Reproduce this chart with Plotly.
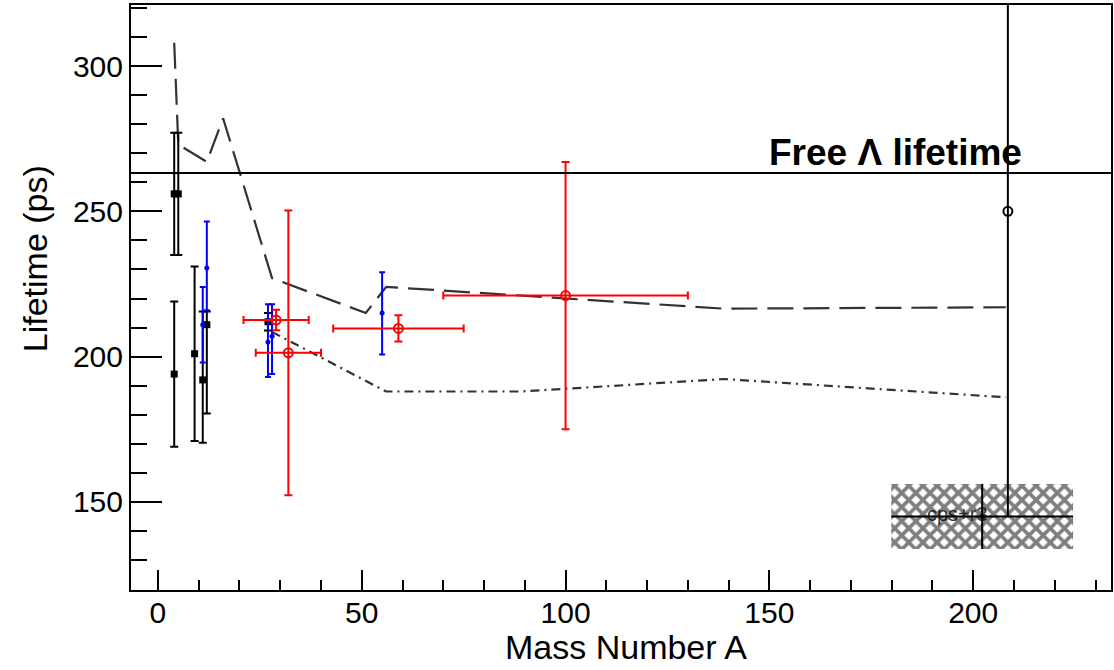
import plotly.graph_objects as go

# ---- data ----
free_lifetime = 263.2

dash_A = [4, 5, 12, 16, 28, 51, 56, 139, 208]
dash_tau = [308, 273, 267, 282, 227, 215, 224, 216.5, 217]

dashdot_A = [28, 56, 89, 139, 208]
dashdot_tau = [208.5, 188, 188, 192.3, 186]

black_A = [4, 5, 4, 9, 11, 12, 27]
black_tau = [256, 256, 194, 201, 192, 211, 212]
black_up = [21, 21, 25, 30, 23.5, 4.5, 3]
black_dn = [21, 21, 25, 30, 21.6, 30.6, 3]

blue_A = [11, 12, 27, 28, 55]
blue_tau = [211, 230.5, 205, 207, 215]
blue_up = [13, 16, 13, 11, 14]
blue_dn = [13, 14.5, 12, 13, 14.3]

red_A = [29, 32, 59, 100]
red_tau = [212.6, 201.3, 209.7, 221]
red_xerr = [8, 8, 16, 30]
red_yerr = [3.5, 49, 4.5, 46]

pb_A = [208.5]
pb_tau = [250]
pb_up = [110]
pb_dn = [105]

box_A = 202.2
box_tau = 145
box_xerr = 22.3
box_yerr = 11.2
box_label = "cps+r3"

x_ticks = [0, 50, 100, 150, 200]
y_ticks = [150, 200, 250, 300]

FONT = "Liberation Sans, Arial, sans-serif"

fig = go.Figure()

# hatched box
bx = [box_A - box_xerr, box_A + box_xerr, box_A + box_xerr, box_A - box_xerr, box_A - box_xerr]
by = [box_tau - box_yerr, box_tau - box_yerr, box_tau + box_yerr, box_tau + box_yerr, box_tau - box_yerr]
fig.add_trace(go.Scatter(
    x=bx, y=by, mode="lines", fill="toself",
    line=dict(width=0, color="rgba(0,0,0,0)"),
    fillcolor="white",
    fillpattern=dict(shape="x", size=10, solidity=0.6, fgcolor="#000", bgcolor="white"),
    hoverinfo="skip", showlegend=False))
fig.add_trace(go.Scatter(
    x=[box_A], y=[box_tau], mode="markers",
    marker=dict(size=5, color="black"),
    error_x=dict(type="constant", value=box_xerr, width=0, thickness=2, color="black"),
    error_y=dict(type="constant", value=box_yerr, width=0, thickness=2, color="black"),
    showlegend=False))

# theory curves
fig.add_trace(go.Scatter(
    x=dash_A, y=dash_tau, mode="lines",
    line=dict(color="#333333", width=2.2, dash="26px,10px"),
    showlegend=False))
fig.add_trace(go.Scatter(
    x=dashdot_A, y=dashdot_tau, mode="lines",
    line=dict(color="#333333", width=2.2, dash="9px,5px,2px,5px"),
    showlegend=False))

# black data
fig.add_trace(go.Scatter(
    x=black_A, y=black_tau, mode="markers",
    marker=dict(symbol="square", size=7, color="black"),
    error_y=dict(type="data", symmetric=False, array=black_up, arrayminus=black_dn,
                 width=4, thickness=2, color="black"),
    showlegend=False))

# blue data
fig.add_trace(go.Scatter(
    x=blue_A, y=blue_tau, mode="markers",
    marker=dict(symbol="circle", size=5, color="blue"),
    error_y=dict(type="data", symmetric=False, array=blue_up, arrayminus=blue_dn,
                 width=3, thickness=2, color="blue"),
    showlegend=False))

# red data
fig.add_trace(go.Scatter(
    x=red_A, y=red_tau, mode="markers",
    marker=dict(symbol="circle-open", size=9, color="red", line=dict(width=2, color="red")),
    error_x=dict(type="data", array=red_xerr, width=4, thickness=2, color="red"),
    error_y=dict(type="data", array=red_yerr, width=4, thickness=2, color="red"),
    showlegend=False))

# Pb point
fig.add_trace(go.Scatter(
    x=pb_A, y=pb_tau, mode="markers",
    marker=dict(symbol="circle-open", size=9, color="black", line=dict(width=2, color="black")),
    error_y=dict(type="data", symmetric=False, array=pb_up, arrayminus=pb_dn,
                 width=0, thickness=2, color="black"),
    showlegend=False))

# free lambda lifetime line
fig.add_shape(type="line", xref="paper", x0=0, x1=1, yref="y", y0=free_lifetime, y1=free_lifetime,
              line=dict(color="black", width=2))
fig.add_annotation(x=149.5, y=free_lifetime, xref="x", yref="y", xanchor="left", yanchor="bottom",
                   yshift=-2, text="<b>Free Λ lifetime</b>", showarrow=False,
                   font=dict(family=FONT, size=37, color="black"))

fig.add_annotation(x=box_A - 6, y=box_tau + 1, xref="x", yref="y", text=box_label, showarrow=False,
                   font=dict(family=FONT, size=20, color="#111"), opacity=0.85)

# axis titles
fig.add_annotation(xref="paper", yref="paper", x=0.505, y=-0.097, text="Mass Number A",
                   showarrow=False, xanchor="center", yanchor="middle",
                   font=dict(family=FONT, size=34, color="black"))
fig.add_annotation(xref="paper", yref="paper", x=-0.098, y=0.567, text="Lifetime (ps)",
                   textangle=-90, showarrow=False, xanchor="center", yanchor="middle",
                   font=dict(family=FONT, size=34, color="black"))

fig.update_xaxes(
    range=[-6.6, 233.8], tickvals=x_ticks, ticktext=[str(v) for v in x_ticks],
    ticks="inside", ticklen=20, tickwidth=2, tickcolor="black",
    minor=dict(ticks="inside", ticklen=10, tickwidth=2, tickcolor="black", dtick=10, tick0=0),
    showline=True, linecolor="black", linewidth=2, mirror=True,
    showgrid=False, zeroline=False, ticklabelstandoff=-5,
    tickfont=dict(family=FONT, size=30, color="black"))
fig.update_yaxes(
    range=[119.7, 321], tickvals=y_ticks, ticktext=[str(v) for v in y_ticks],
    ticks="inside", ticklen=31, tickwidth=2, tickcolor="black",
    minor=dict(ticks="inside", ticklen=16, tickwidth=2, tickcolor="black", dtick=10, tick0=0),
    showline=True, linecolor="black", linewidth=2, mirror=True,
    showgrid=False, zeroline=False,
    tickfont=dict(family=FONT, size=30, color="black"))

fig.update_layout(
    width=1114, height=670,
    margin=dict(l=131, r=1, t=5, b=80),
    paper_bgcolor="white", plot_bgcolor="white",
    font=dict(family=FONT, color="black"))

fig.write_html("out.html")
